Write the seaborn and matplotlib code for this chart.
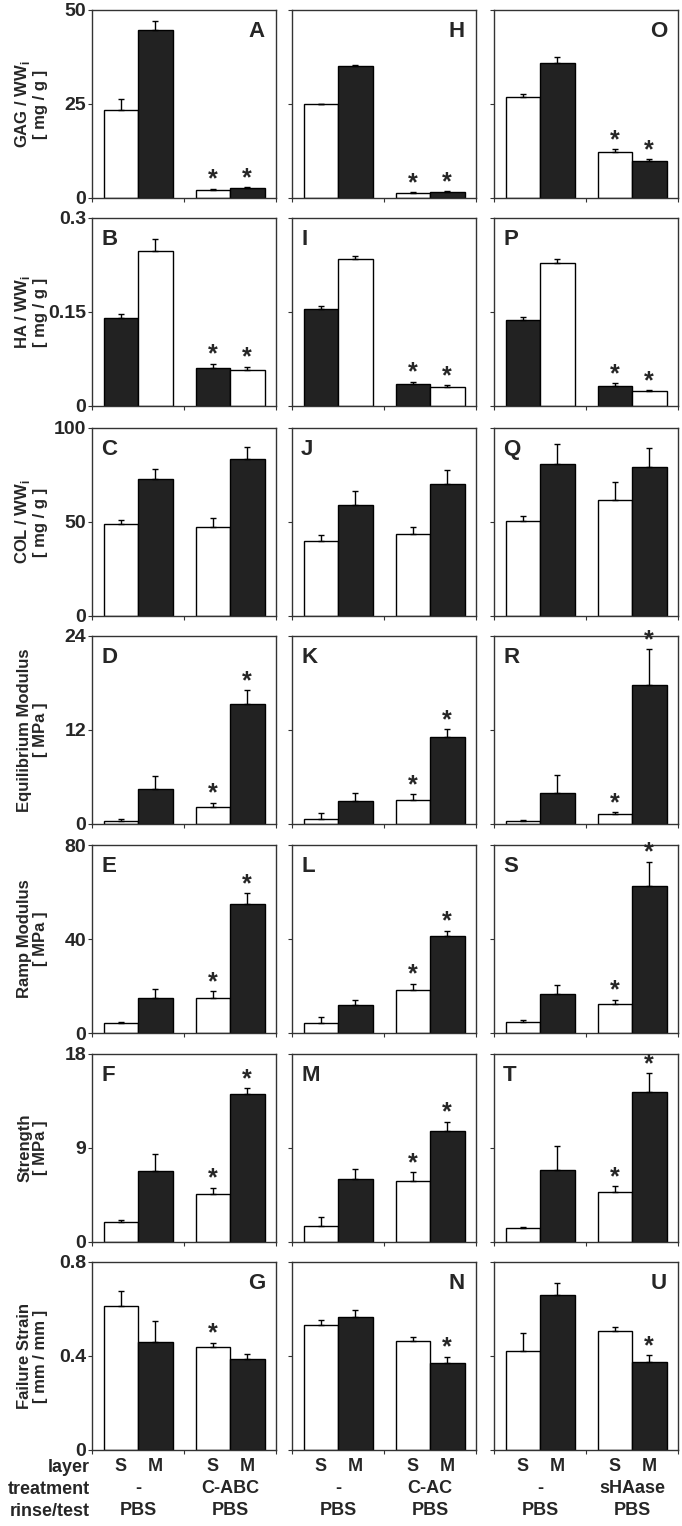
import numpy as np
import pandas as pd
import seaborn as sns
import matplotlib
matplotlib.use("Agg")
import matplotlib.pyplot as plt
from matplotlib.container import BarContainer
from matplotlib.transforms import blended_transform_factory

## values per panel: [S ctrl, M ctrl, S treated, M treated], three columns each
gag_vals = [[23.5, 44.7, 2.2, 2.6], [24.9, 35.2, 1.4, 1.7], [26.8, 35.9, 12.3, 9.8]]
gag_err = [[2.9, 2.4, 0.2, 0.2], [0.1, 0.2, 0.1, 0.1], [0.8, 1.6, 0.6, 0.5]]
gag_star = [[0, 0, 1, 1], [0, 0, 1, 1], [0, 0, 1, 1]]

ha_vals = [[0.141, 0.247, 0.060, 0.057], [0.154, 0.235, 0.035, 0.030], [0.1375, 0.228, 0.032, 0.024]]
ha_err = [[0.006, 0.019, 0.007, 0.006], [0.005, 0.004, 0.004, 0.003], [0.004, 0.007, 0.004, 0.001]]
ha_star = [[0, 0, 1, 1], [0, 0, 1, 1], [0, 0, 1, 1]]

col_vals = [[49.2, 72.7, 47.4, 83.4], [39.7, 59.1, 43.6, 70.2], [50.6, 81.0, 61.9, 79.0]]
col_err = [[1.8, 5.4, 4.5, 6.7], [3.5, 7.2, 3.5, 7.2], [2.5, 10.5, 9.4, 10.4]]
col_star = [[0, 0, 0, 0], [0, 0, 0, 0], [0, 0, 0, 0]]

eq_vals = [[0.42, 4.48, 2.2, 15.3], [0.6, 2.9, 3.0, 11.1], [0.42, 3.9, 1.27, 17.75]]
eq_err = [[0.2, 1.7, 0.5, 1.8], [0.8, 1.0, 0.8, 1.0], [0.13, 2.4, 0.21, 4.55]]
eq_star = [[0, 0, 1, 1], [0, 0, 1, 1], [0, 0, 1, 1]]

ramp_vals = [[4.2, 15.0, 15.0, 55.1], [4.1, 11.9, 18.1, 41.4], [4.8, 16.7, 12.4, 62.5]]
ramp_err = [[0.6, 3.7, 2.8, 4.3], [2.5, 2.2, 2.8, 2.0], [0.7, 3.8, 1.7, 10.3]]
ramp_star = [[0, 0, 1, 1], [0, 0, 1, 1], [0, 0, 1, 1]]

str_vals = [[1.94, 6.82, 4.62, 14.14], [1.53, 5.99, 5.86, 10.6], [1.37, 6.91, 4.78, 14.34]]
str_err = [[0.19, 1.62, 0.57, 0.58], [0.86, 0.99, 0.8, 0.9], [0.06, 2.29, 0.54, 1.81]]
str_star = [[0, 0, 1, 1], [0, 0, 1, 1], [0, 0, 1, 1]]

fs_vals = [[0.612, 0.458, 0.439, 0.386], [0.534, 0.566, 0.463, 0.370], [0.423, 0.658, 0.505, 0.374]]
fs_err = [[0.065, 0.092, 0.017, 0.021], [0.018, 0.029, 0.018, 0.026], [0.077, 0.052, 0.019, 0.029]]
fs_star = [[0, 0, 1, 0], [0, 0, 0, 1], [0, 0, 0, 1]]

ylabels = ["GAG / WW$_\\mathbf{i}$\n[ mg / g ]", "HA / WW$_\\mathbf{i}$\n[ mg / g ]",
           "COL / WW$_\\mathbf{i}$\n[ mg / g ]", "Equilibrium Modulus\n[ MPa ]",
           "Ramp Modulus\n[ MPa ]", "Strength\n[ MPa ]", "Failure Strain\n[ mm / mm ]"]
ymax = [50, 0.3, 100, 24, 80, 18, 0.8]
yticklabels = [["0", "25", "50"], ["0", "0.15", "0.3"], ["0", "50", "100"], ["0", "12", "24"],
               ["0", "40", "80"], ["0", "9", "18"], ["0", "0.4", "0.8"]]
letters = [["A", "H", "O"], ["B", "I", "P"], ["C", "J", "Q"], ["D", "K", "R"],
           ["E", "L", "S"], ["F", "M", "T"], ["G", "N", "U"]]
layers = ["S", "M"]
groups = ["ctrl", "trt"]
treatments = [["-", "C-ABC"], ["-", "C-AC"], ["-", "sHAase"]]
rinse = ["PBS", "PBS"]

rows = [(gag_vals, gag_err, gag_star), (ha_vals, ha_err, ha_star), (col_vals, col_err, col_star),
        (eq_vals, eq_err, eq_star), (ramp_vals, ramp_err, ramp_star), (str_vals, str_err, str_star),
        (fs_vals, fs_err, fs_star)]

sns.set_style("white")
plt.rcParams['font.family'] = ['Liberation Sans', 'DejaVu Sans']
plt.rcParams['mathtext.fontset'] = 'custom'
plt.rcParams['mathtext.bf'] = 'Liberation Sans:bold'
plt.rcParams['mathtext.rm'] = 'Liberation Sans'

W, H = 682, 1526
fig = plt.figure(figsize=(W / 100, H / 100), dpi=100)

col_left = [92, 292, 494]
row_top = [10, 218, 428, 636, 845, 1054, 1262]
pw, ph = 184, 188
dark = "#222222"

for r, (vals, errs, stars) in enumerate(rows):
    for c in range(3):
        ax = fig.add_axes([col_left[c] / W, 1 - (row_top[r] + ph) / H, pw / W, ph / H])
        df = pd.DataFrame({
            "group": [groups[0], groups[0], groups[1], groups[1]],
            "layer": layers * 2,
            "value": vals[c],
        })
        ## HA row has the colours swapped in the original figure
        pal = {"S": dark, "M": "white"} if r == 1 else {"S": "white", "M": dark}
        sns.barplot(data=df, x="group", y="value", hue="layer", hue_order=layers,
                    order=groups, palette=pal, edgecolor="black", linewidth=1.0,
                    width=0.75, errorbar=None, legend=False, ax=ax)

        bar_conts = [cn for cn in ax.containers if isinstance(cn, BarContainer)]

        ## upward-only error bars + significance stars
        for li, cont in enumerate(bar_conts):
            for gi, bar in enumerate(cont.patches):
                k = gi * 2 + li
                x = bar.get_x() + bar.get_width() / 2
                h = bar.get_height()
                e = errs[c][k]
                ax.errorbar(x, h, yerr=[[0], [e]], fmt="none", ecolor="black",
                            elinewidth=1, capsize=2, capthick=1)
                if stars[c][k]:
                    ax.annotate("*", xy=(x, h + e), xytext=(0, -2), textcoords="offset points",
                                ha="center", va="bottom", fontsize=18, fontweight="bold")

        ax.set_xlim(-0.5, 1.5)
        ax.set_ylim(0, ymax[r])
        ax.set_xticks([-0.5, 0.5, 1.5])
        ax.set_xticklabels([])
        ax.set_yticks([0, ymax[r] / 2, ymax[r]])
        if c == 0:
            ax.set_yticklabels(yticklabels[r], fontsize=14, fontweight="bold")
            ax.set_ylabel(ylabels[r], fontsize=12, fontweight="bold", linespacing=1.05)
            ax.yaxis.set_label_coords(-0.24, 0.5)
        else:
            ax.set_yticklabels([])
            ax.set_ylabel("")
        ax.set_xlabel("")
        ax.tick_params(axis="both", direction="out", length=3, width=0.8, color="#333333",
                       pad=1, left=True, bottom=True)
        for sp in ax.spines.values():
            sp.set_color("#333333")
            sp.set_linewidth(1.0)

        if r in (0, 6):
            ax.text(0.94, 0.94, letters[r][c], transform=ax.transAxes, ha="right", va="top",
                    fontsize=16, fontweight="bold")
        else:
            ax.text(0.05, 0.94, letters[r][c], transform=ax.transAxes, ha="left", va="top",
                    fontsize=16, fontweight="bold")

        if r == 6:
            tr = blended_transform_factory(ax.transData, ax.transAxes)
            for li, cont in enumerate(bar_conts):
                for bar in cont.patches:
                    x = bar.get_x() + bar.get_width() / 2
                    ax.text(x, -0.09, layers[li], transform=tr, ha="center", va="center",
                            fontsize=13, fontweight="bold")
            for gi in range(2):
                ax.text(gi, -0.205, treatments[c][gi], transform=tr, ha="center", va="center",
                        fontsize=13, fontweight="bold")
                ax.text(gi, -0.32, rinse[gi], transform=tr, ha="center", va="center",
                        fontsize=13, fontweight="bold")

for txt, y in zip(["layer", "treatment", "rinse/test"], [1467, 1489, 1511]):
    fig.text(90 / W, 1 - y / H, txt, ha="right", va="center", fontsize=13, fontweight="bold")

fig.savefig("out.png", dpi=100)
